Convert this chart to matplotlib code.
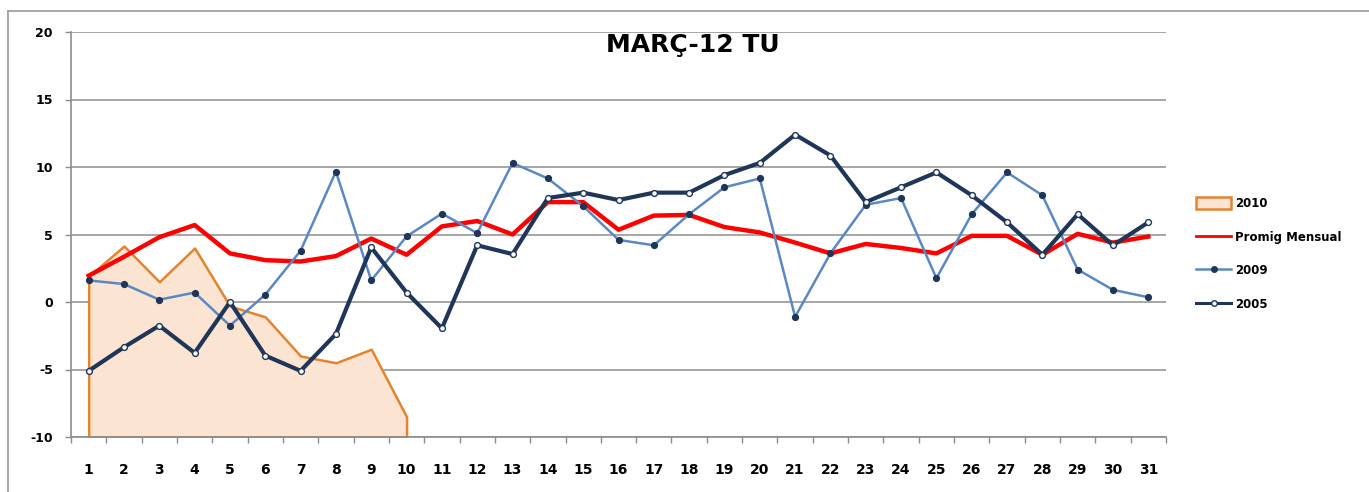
import numpy as np
import matplotlib
matplotlib.use("Agg")
import matplotlib.pyplot as plt
from matplotlib.lines import Line2D

days = list(range(1, 32))
day_labels = [str(d) for d in days]

# 2010 only has the first ten days
y2010 = [1.9, 4.15, 1.5, 4.0, -0.3, -1.1, -4.0, -4.5, -3.5, -8.5]
promig = [1.95, 3.35, 4.8, 5.7, 3.6, 3.1, 3.0, 3.4, 4.7, 3.5,
          5.6, 6.0, 5.0, 7.4, 7.4, 5.35, 6.4, 6.45, 5.55, 5.15,
          4.4, 3.6, 4.3, 4.0, 3.6, 4.9, 4.9, 3.5, 5.05, 4.4, 4.85]
y2009 = [1.6, 1.33, 0.17, 0.7, -1.75, 0.55, 3.8, 9.66, 1.6, 4.86,
         6.55, 5.1, 10.3, 9.15, 7.1, 4.6, 4.2, 6.5, 8.5, 9.15,
         -1.1, 3.6, 7.2, 7.7, 1.76, 6.5, 9.6, 7.9, 2.4, 0.9, 0.35]
y2005 = [-5.1, -3.35, -1.75, -3.77, 0.0, -3.97, -5.1, -2.37, 4.04, 0.7,
         -1.95, 4.2, 3.55, 7.7, 8.1, 7.55, 8.1, 8.1, 9.4, 10.3,
         12.4, 10.85, 7.4, 8.5, 9.6, 7.9, 5.9, 3.5, 6.5, 4.2, 5.9]
y_ticks = [-10, -5, 0, 5, 10, 15, 20]

c_orange = "#e3842f"
c_fill = "#fce4d2"
c_red = "#ff0000"
c_light = "#5b88c2"
c_navy = "#1f3658"
c_grid = "#a6a6a6"
c_axis = "#8c8c8c"

fig = plt.figure(figsize=(13.69, 4.92), dpi=100)
ax = fig.add_axes([71 / 1369, 55 / 492, 1095 / 1369, 405 / 492])

# area series for 2010, drawn down to the axis floor
area = ax.fill_between(days[:len(y2010)], -10, y2010, facecolor=c_fill,
                       edgecolor=c_orange, linewidth=1.8, zorder=2, label="2010")
ax.plot(days, promig, color=c_red, lw=3.2, zorder=3, label="Promig Mensual")
ax.plot(days, y2009, color=c_light, lw=1.8, marker="o", ms=4.2,
        mfc=c_navy, mec=c_navy, zorder=4, label="2009")
ax.plot(days, y2005, color=c_navy, lw=3.0, marker="o", ms=4.2,
        mfc="white", mec=c_navy, mew=1.0, zorder=5, label="2005")

ax.set_xlim(0.5, 31.5)
ax.set_ylim(-10, 20)
ax.set_yticks(y_ticks)
ax.set_yticklabels([str(v) for v in y_ticks], fontsize=9, fontweight="bold")
ax.yaxis.grid(True, color=c_grid, lw=1.4)
ax.set_axisbelow(True)

# category boundaries get the tick marks, labels sit in the middle
ax.set_xticks(np.arange(0.5, 32, 1.0))
ax.set_xticklabels([])
ax.set_xticks(days, minor=True)
ax.set_xticklabels(day_labels, minor=True, fontsize=10, fontweight="bold")
ax.tick_params(axis="x", which="major", length=4, color=c_axis, width=1)
ax.tick_params(axis="x", which="minor", length=0, pad=19)
ax.tick_params(axis="y", length=4, color=c_axis, width=1, pad=9)

for s in ["top", "right"]:
    ax.spines[s].set_visible(False)
for s in ["left", "bottom"]:
    ax.spines[s].set_color(c_axis)
    ax.spines[s].set_linewidth(1.2)

fig.text(693 / 1369, 1 - 45 / 492, "MARÇ-12 TU", ha="center", va="center",
         fontsize=18, fontweight="bold")

handles = [area,
           Line2D([], [], color=c_red, lw=2),
           Line2D([], [], color=c_light, lw=1.8, marker="o", ms=4,
                  mfc=c_navy, mec=c_navy),
           Line2D([], [], color=c_navy, lw=2.2, marker="o", ms=4,
                  mfc="white", mec=c_navy)]
fig.legend(handles, ["2010", "Promig Mensual", "2009", "2005"],
           loc="center left", bbox_to_anchor=(1196 / 1369, 1 - 254 / 492),
           frameon=False, borderpad=0, borderaxespad=0, handlelength=3.0,
           handleheight=1.1, handletextpad=0.3, labelspacing=1.75,
           prop={"size": 8.5, "weight": "bold"})

# chart-area border (top and left visible in the crop)
fig.add_artist(Line2D([8 / 1369, 8 / 1369], [0, 1 - 11 / 492],
                      transform=fig.transFigure, color="#9a9a9a", lw=1.2))
fig.add_artist(Line2D([8 / 1369, 1], [1 - 11 / 492, 1 - 11 / 492],
                      transform=fig.transFigure, color="#9a9a9a", lw=1.2))

fig.savefig("out.png", dpi=100)
